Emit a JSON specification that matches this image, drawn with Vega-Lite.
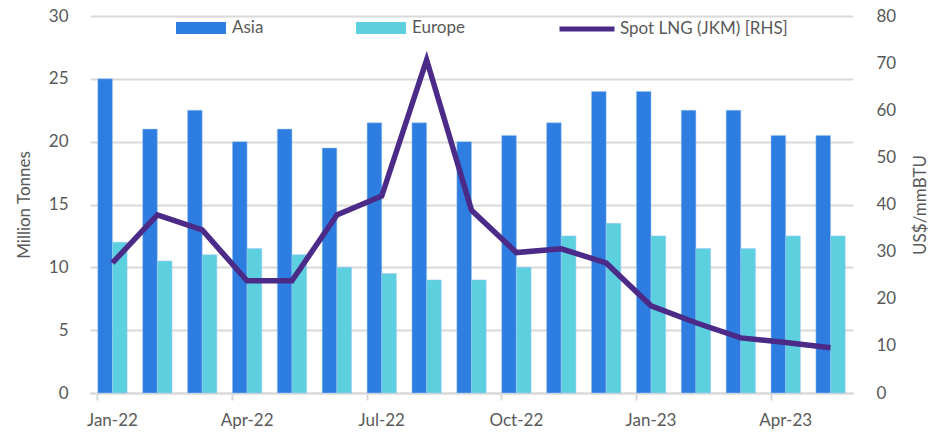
{
  "$schema": "https://vega.github.io/schema/vega-lite/v6.json",
  "width": 763,
  "height": 377,
  "autosize": "none",
  "padding": {"left": 90, "top": 16, "right": 78, "bottom": 45},
  "background": "white",
  "config": {
    "font": "Lato",
    "view": {"stroke": null},
    "axis": {"labelColor": "#595959", "titleColor": "#595959", "labelFontSize": 17, "titleFontSize": 17, "titleFontWeight": "normal", "grid": false, "domain": false, "ticks": false},
    "legend": {"labelColor": "#595959", "labelFontSize": 17, "padding": 0, "title": null, "labelLimit": 400}
  },
  "datasets": {
    "vol": [
      {"month": "Jan-22", "series": "Asia", "value": 25}, {"month": "Jan-22", "series": "Europe", "value": 12},
      {"month": "Feb-22", "series": "Asia", "value": 21}, {"month": "Feb-22", "series": "Europe", "value": 10.5},
      {"month": "Mar-22", "series": "Asia", "value": 22.5}, {"month": "Mar-22", "series": "Europe", "value": 11},
      {"month": "Apr-22", "series": "Asia", "value": 20}, {"month": "Apr-22", "series": "Europe", "value": 11.5},
      {"month": "May-22", "series": "Asia", "value": 21}, {"month": "May-22", "series": "Europe", "value": 11},
      {"month": "Jun-22", "series": "Asia", "value": 19.5}, {"month": "Jun-22", "series": "Europe", "value": 10},
      {"month": "Jul-22", "series": "Asia", "value": 21.5}, {"month": "Jul-22", "series": "Europe", "value": 9.5},
      {"month": "Aug-22", "series": "Asia", "value": 21.5}, {"month": "Aug-22", "series": "Europe", "value": 9},
      {"month": "Sep-22", "series": "Asia", "value": 20}, {"month": "Sep-22", "series": "Europe", "value": 9},
      {"month": "Oct-22", "series": "Asia", "value": 20.5}, {"month": "Oct-22", "series": "Europe", "value": 10},
      {"month": "Nov-22", "series": "Asia", "value": 21.5}, {"month": "Nov-22", "series": "Europe", "value": 12.5},
      {"month": "Dec-22", "series": "Asia", "value": 24}, {"month": "Dec-22", "series": "Europe", "value": 13.5},
      {"month": "Jan-23", "series": "Asia", "value": 24}, {"month": "Jan-23", "series": "Europe", "value": 12.5},
      {"month": "Feb-23", "series": "Asia", "value": 22.5}, {"month": "Feb-23", "series": "Europe", "value": 11.5},
      {"month": "Mar-23", "series": "Asia", "value": 22.5}, {"month": "Mar-23", "series": "Europe", "value": 11.5},
      {"month": "Apr-23", "series": "Asia", "value": 20.5}, {"month": "Apr-23", "series": "Europe", "value": 12.5},
      {"month": "May-23", "series": "Asia", "value": 20.5}, {"month": "May-23", "series": "Europe", "value": 12.5}
    ],
    "price": [
      {"month": "Jan-22", "price": 27.6}, {"month": "Feb-22", "price": 37.8}, {"month": "Mar-22", "price": 34.6},
      {"month": "Apr-22", "price": 23.8}, {"month": "May-22", "price": 23.8}, {"month": "Jun-22", "price": 37.8},
      {"month": "Jul-22", "price": 41.8}, {"month": "Aug-22", "price": 70.7}, {"month": "Sep-22", "price": 38.8},
      {"month": "Oct-22", "price": 29.8}, {"month": "Nov-22", "price": 30.6}, {"month": "Dec-22", "price": 27.6},
      {"month": "Jan-23", "price": 18.5}, {"month": "Feb-23", "price": 14.9}, {"month": "Mar-23", "price": 11.7},
      {"month": "Apr-23", "price": 10.7}, {"month": "May-23", "price": 9.6}
    ]
  },
  "layer": [
    {
      "data": {"name": "vol"},
      "mark": {"type": "bar", "stroke": "#9cc4f2", "strokeWidth": 0.5},
      "encoding": {
        "x": {
          "field": "month", "type": "ordinal", "sort": null,
          "scale": {"paddingInner": 0.347, "paddingOuter": 0.1735},
          "axis": {
            "title": null, "values": ["Jan-22", "Apr-22", "Jul-22", "Oct-22", "Jan-23", "Apr-23"],
            "bandPosition": 0, "labelAngle": 0, "labelPadding": 12,
            "domain": true, "domainColor": "#d9d9d9", "domainWidth": 2,
            "ticks": true, "tickColor": "#d9d9d9", "tickWidth": 2, "tickSize": 7
          }
        },
        "xOffset": {"field": "series", "sort": ["Asia", "Europe"]},
        "y": {
          "field": "value", "type": "quantitative",
          "scale": {"domain": [0, 30]},
          "axis": {"title": "Million Tonnes", "values": [0, 5, 10, 15, 20, 25, 30], "grid": true, "gridColor": "#d9d9d9", "gridWidth": 2, "labelPadding": 22, "titlePadding": 15}
        },
        "color": {
          "field": "series", "type": "nominal",
          "scale": {"domain": ["Asia", "Europe"], "range": ["#2E7DE1", "#5DD0E0"]},
          "legend": {"orient": "none", "direction": "horizontal", "legendX": 86, "legendY": -13, "symbolType": "M-1,-0.24H1V0.24H-1Z", "symbolSize": 2500, "symbolStrokeWidth": 0, "labelOffset": 6, "columnPadding": 92}
        }
      }
    },
    {
      "data": {"name": "price"},
      "mark": {"type": "line", "strokeWidth": 5.5},
      "encoding": {
        "x": {"field": "month", "type": "ordinal", "sort": null},
        "y": {
          "field": "price", "type": "quantitative",
          "scale": {"domain": [0, 80]},
          "axis": {"orient": "right", "title": "US$/mmBTU", "titleAngle": 270, "values": [0, 10, 20, 30, 40, 50, 60, 70, 80], "labelPadding": 23, "titlePadding": 34}
        },
        "stroke": {
          "datum": "Spot LNG (JKM) [RHS]", "type": "nominal",
          "scale": {"range": ["#4B2A88"]},
          "legend": {"orient": "none", "legendX": 467, "legendY": -17, "symbolType": "stroke", "symbolSize": 3025, "symbolStrokeWidth": 5, "labelOffset": 3}
        }
      }
    }
  ],
  "resolve": {"scale": {"y": "independent"}}
}
